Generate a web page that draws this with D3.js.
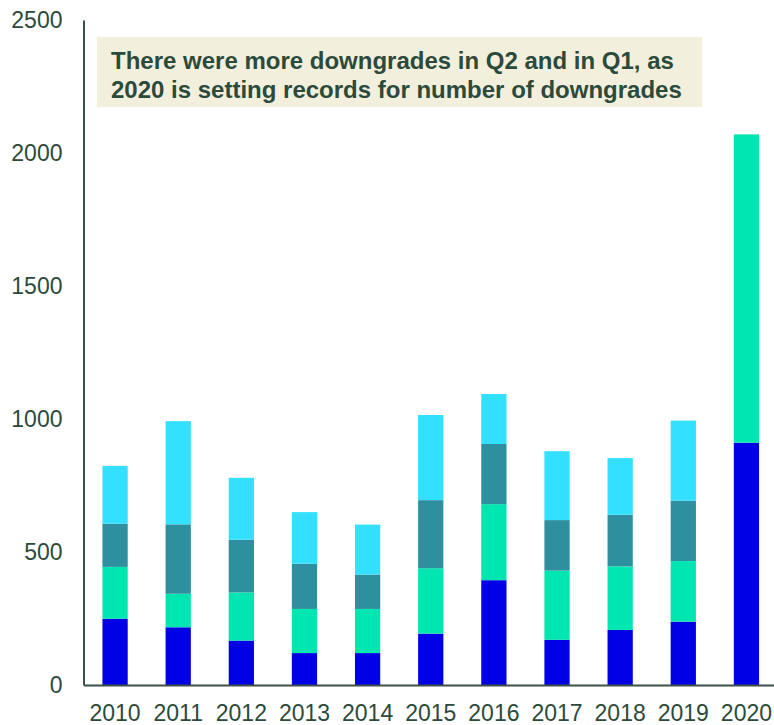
<!DOCTYPE html>
<html>
<head>
  <meta charset='utf-8'>
  <title>Downgrades by quarter</title>
  <script src="https://d3js.org/d3.v7.min.js"></script>
  <style>
    body { margin: 0; background: #fff; }
  </style>
</head>
<body>
  <svg width=774 height=725></svg>
<script>

  // data
  const years = ['2010','2011','2012','2013','2014','2015','2016','2017','2018','2019','2020'];
  const q1 = [249, 217, 167, 120, 120, 193, 394, 170, 207, 238, 911];
  const q2 = [195, 126, 181, 166, 166, 246, 286, 260, 239, 228, 1159];
  const q3 = [162, 261, 198, 170, 129, 256, 226, 190, 194, 227, 0];
  const q4 = [218, 388, 233, 194, 188, 320, 188, 259, 213, 301, 0];
  const quarters = ['Q1','Q2','Q3','Q4'];
  const colors = ['#0000e6', '#00e6b0', '#2e8f9e', '#33e0ff'];
  const yTicks = [0, 500, 1000, 1500, 2000, 2500];
  const note = ['There were more downgrades in Q2 and in Q1, as',
                '2020 is setting records for number of downgrades'];

  const ink = '#2c4a3b';
  const svg = d3.select('svg');

  const rows = years.map((y, i) => ({year: y, Q1: q1[i], Q2: q2[i], Q3: q3[i], Q4: q4[i]}));
  const stacked = d3.stack().keys(quarters)(rows);

  const x = d3.scaleBand()
    .domain(years)
    .range([83.5, 778])
    .paddingInner(0.6)
    .paddingOuter(0.3);

  const y = d3.scaleLinear()
    .domain([0, 2500])
    .range([685, 20]);

  // bars
  svg.append('g')
    .selectAll('g')
    .data(stacked)
    .enter()
      .append('g')
      .attr('fill', (d, i) => colors[i])
      .selectAll('rect')
      .data(d => d)
      .enter()
        .append('rect')
        .attr('x', d => x(d.data.year))
        .attr('width', x.bandwidth())
        .attr('y', d => y(d[1]))
        .attr('height', d => y(d[0]) - y(d[1]));

  // y axis
  const yAxis = svg.append('g')
    .attr('transform', 'translate(83.5,0)')
    .call(d3.axisLeft(y).tickValues(yTicks).tickSize(0).tickPadding(21).tickFormat(d3.format('d')));
  yAxis.select('.domain').attr('stroke', '#3d5147').attr('stroke-width', 2);
  yAxis.selectAll('text')
    .attr('fill', ink)
    .attr('font-family', 'Liberation Sans, Arial, sans-serif')
    .attr('font-size', '23px');

  // x axis
  const xAxis = svg.append('g')
    .attr('transform', 'translate(0,685)')
    .call(d3.axisBottom(x).tickSize(0).tickPadding(20));
  xAxis.select('.domain').attr('stroke', '#3d5147').attr('stroke-width', 2);
  xAxis.selectAll('text')
    .attr('fill', ink)
    .attr('font-family', 'Liberation Sans, Arial, sans-serif')
    .attr('font-size', '23px');

  // note box
  svg.append('rect')
    .attr('x', 97)
    .attr('y', 37)
    .attr('width', 605)
    .attr('height', 70)
    .attr('fill', '#f2efdc');

  svg.append('g')
    .selectAll('text')
    .data(note)
    .enter()
      .append('text')
      .attr('x', 111)
      .attr('y', (d, i) => 68.5 + i * 29.5)
      .attr('fill', ink)
      .attr('font-family', 'Liberation Sans, Arial, sans-serif')
      .attr('font-weight', 'bold')
      .attr('font-size', '24px')
      .text(d => d);

</script>
</body>
</html>
